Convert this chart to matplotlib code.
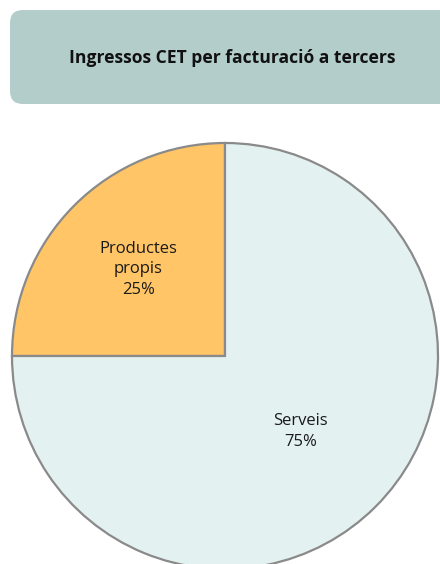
import numpy as np
import matplotlib
matplotlib.use("Agg")
import matplotlib.pyplot as plt
from matplotlib.patches import FancyBboxPatch

plt.rcParams['font.family'] = ['Open Sans', 'DejaVu Sans']

title = "Ingressos CET per facturació a tercers"
categories = ["Productes\npropis", "Serveis"]
shares = [25, 75]
colors = ["#ffc566", "#e4f1f1"]
label_dist = [0.575, 0.50]

W, H = 440, 564
fig = plt.figure(figsize=(W / 100, H / 100), dpi=100)
fig.patch.set_facecolor("white")

# pixel-space overlay for the header box
bg = fig.add_axes([0, 0, 1, 1])
bg.set_xlim(0, W)
bg.set_ylim(H, 0)
bg.axis("off")
box = FancyBboxPatch((10, 10), 450, 94, boxstyle="round,pad=0,rounding_size=13",
                     facecolor="#b3cdcb", edgecolor="none")
bg.add_patch(box)
bg.text(232, 58, title, ha="center", va="center", fontsize=12.6,
        fontweight="bold", color="#111111")

# pie axes: centre (225, 356) px, radius 213 px
cx, cy, r = 225, 356, 213
ax = fig.add_axes([(cx - r) / W, (H - cy - r) / H, 2 * r / W, 2 * r / H])
wedges, _ = ax.pie(shares, colors=colors, startangle=90, counterclock=True,
                   radius=1.0, wedgeprops=dict(edgecolor="#8a8a8a", linewidth=1.6))
ax.set_xlim(-1, 1)
ax.set_ylim(-1, 1)
ax.set_aspect("equal")
ax.axis("off")

for w, name, v, d in zip(wedges, categories, shares, label_dist):
    mid = np.deg2rad((w.theta1 + w.theta2) / 2)
    ax.text(d * np.cos(mid), d * np.sin(mid), f"{name}\n{v}%", ha="center",
            va="center", multialignment="center", fontsize=12.0,
            color="#1a1a1a", linespacing=1.4)

fig.savefig("out.png", dpi=100)
